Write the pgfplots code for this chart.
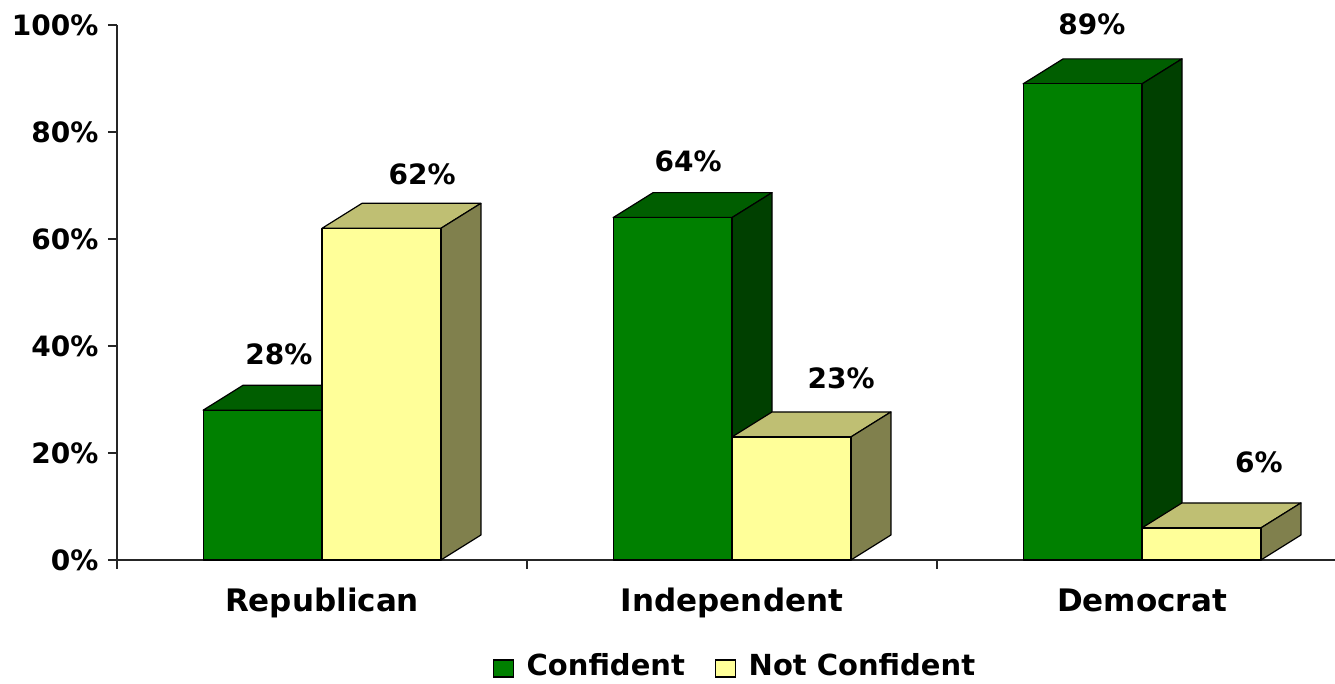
\documentclass[border=0pt]{standalone}
\usepackage{pgfplots}
\pgfplotsset{compat=1.18}
\usepackage{fontspec}
\setmainfont{DejaVu Sans}

\definecolor{gfront}{RGB}{0,128,0}
\definecolor{gtop}{RGB}{0,94,0}
\definecolor{gside}{RGB}{0,64,0}
\definecolor{yfront}{RGB}{255,255,153}
\definecolor{ytop}{RGB}{191,191,115}
\definecolor{yside}{RGB}{128,128,77}

\newcommand\bw{0.29}
\newcommand\dx{0.0976}
\newcommand\dy{4.67}
% #1 left x of front face, #2 value, #3 colour prefix (g or y)
\newcommand\prism[3]{%
  \pgfmathsetmacro\xa{#1}%
  \pgfmathsetmacro\xb{#1+\bw}%
  \pgfmathsetmacro\xc{#1+\bw+\dx}%
  \pgfmathsetmacro\xd{#1+\dx}%
  \pgfmathsetmacro\ya{#2}%
  \pgfmathsetmacro\yb{#2+\dy}%
  \edef\tmp{%
    \noexpand\addplot[forget plot, fill=#3top, draw=black, line width=1.2pt, line join=round]
      coordinates {(\xa,\ya) (\xb,\ya) (\xc,\yb) (\xd,\yb)} -- cycle;
    \noexpand\addplot[forget plot, fill=#3side, draw=black, line width=1.2pt, line join=round]
      coordinates {(\xb,0) (\xc,\dy) (\xc,\yb) (\xb,\ya)} -- cycle;
    \noexpand\addplot[forget plot, fill=#3front, draw=black, line width=1.2pt, line join=round]
      coordinates {(\xa,0) (\xb,0) (\xb,\ya) (\xa,\ya)} -- cycle;
  }\tmp}

\begin{document}
\begin{tikzpicture}
\path[use as bounding box] (0,0) rectangle (1335pt,683pt);
\begin{axis}[
  at={(117pt,123pt)}, anchor=south west,
  scale only axis, width=1218pt, height=535pt,
  xmin=-0.5, xmax=2.4707, ymin=0, ymax=100,
  clip=false,
  axis x line*=bottom, axis y line*=left,
  axis line style={line width=1.5pt, color=black!85},
  tick style={line width=1.5pt, color=black!85},
  tick align=outside, major tick length=9pt,
  xtick={-0.5,0.5,1.5}, xticklabels={},
  extra x ticks={0,1,2},
  extra x tick labels={Republican,Independent,Democrat},
  extra x tick style={major tick length=0pt,
    tick label style={font=\fontsize{31}{36}\selectfont\bfseries,
      text height=0.76em, text depth=0.24em, yshift=-40pt}},
  ytick={0,20,40,60,80,100},
  yticklabel={\pgfmathprintnumber{\tick}\%},
  yticklabel style={xshift=-6pt},
  /pgf/number format/assume math mode=true,
  tick label style={font=\fontsize{28}{32}\selectfont\bfseries},
  legend style={at={(0.5,0)}, anchor=center, xshift=9pt, yshift=-105pt,
    draw=none, fill=none, legend columns=2,
    font=\fontsize{29}{33}\selectfont\bfseries,
    /tikz/every even column/.append style={column sep=28pt}},
  legend image code/.code={\draw[#1,draw=black,line width=1.2pt] (0pt,-12pt) rectangle (20pt,5pt);
    \path (31pt,0pt);},
]
\addlegendimage{fill=gfront}
\addlegendentry{Confident}
\addlegendimage{fill=yfront}
\addlegendentry{Not Confident}

\prism{-0.29}{28}{g}
\prism{0}{62}{y}
\prism{0.71}{64}{g}
\prism{1}{23}{y}
\prism{1.71}{89}{g}
\prism{2}{6}{y}

\begin{scope}[every node/.style={font=\fontsize{28}{32}\selectfont\bfseries}]
\node at (axis cs:-0.105,38.5) {28\%};
\node at (axis cs:0.244,72.0) {62\%};
\node at (axis cs:0.893,74.6) {64\%};
\node at (axis cs:1.266,34.0) {23\%};
\node at (axis cs:1.878,100.2) {89\%};
\node at (axis cs:2.285,18.3) {6\%};
\end{scope}
\end{axis}
\end{tikzpicture}
\end{document}
